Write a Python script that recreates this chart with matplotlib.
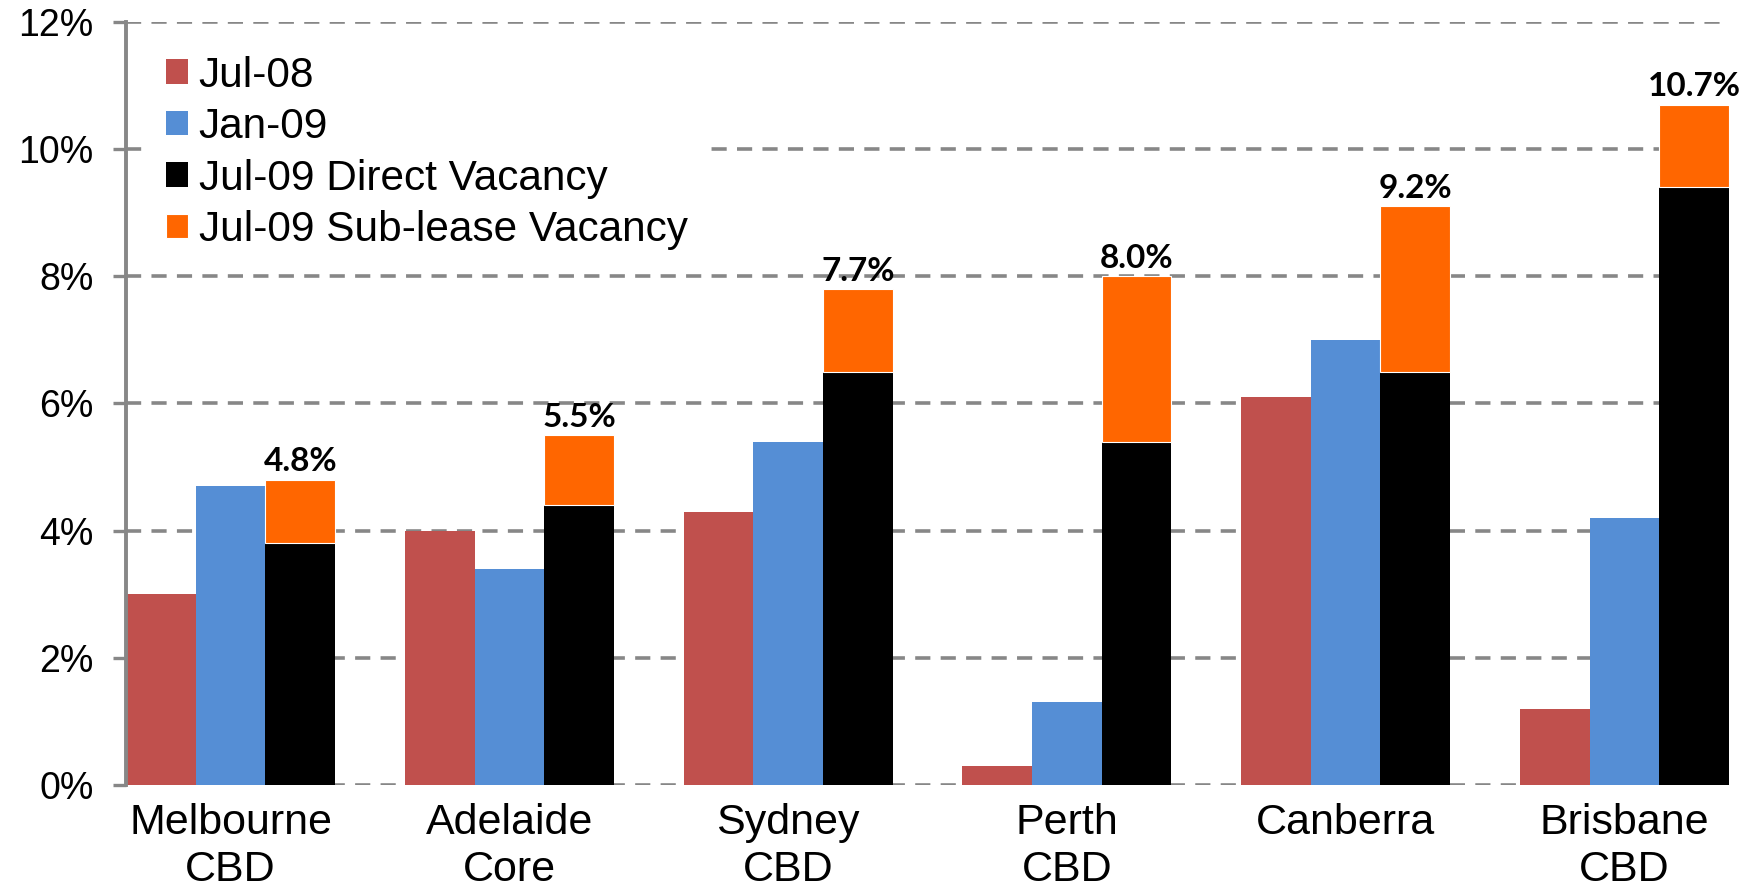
import matplotlib
matplotlib.use('Agg')
import matplotlib.pyplot as plt
import numpy as np

categories = ['Melbourne\nCBD', 'Adelaide\nCore', 'Sydney\nCBD', 'Perth\nCBD', 'Canberra', 'Brisbane\nCBD']
jul08 = [3.0, 4.0, 4.3, 0.3, 6.1, 1.2]
jan09 = [4.7, 3.4, 5.4, 1.3, 7.0, 4.2]
jul09_direct = [3.8, 4.4, 6.5, 5.4, 6.5, 9.4]
jul09_sublease = [1.0, 1.1, 1.3, 2.6, 2.6, 1.3]
total_labels = ['4.8%', '5.5%', '7.7%', '8.0%', '9.2%', '10.7%']
series_names = ['Jul-08', 'Jan-09', 'Jul-09 Direct Vacancy', 'Jul-09 Sub-lease Vacancy']
yticks = [0, 2, 4, 6, 8, 10, 12]
ytick_labels = ['0%', '2%', '4%', '6%', '8%', '10%', '12%']

RED = '#C0504D'
BLUE = '#558ED5'
BLACK = '#000000'
ORANGE = '#FF6600'
GRID = '#878787'

plt.rcParams['font.family'] = ['Liberation Sans', 'DejaVu Sans']

fig = plt.figure(figsize=(17.51, 8.93), dpi=100)
ax = fig.add_axes([0.072, 0.121, 0.9154, 0.8544])

x = np.arange(len(categories))
w = 0.25
ax.bar(x - w, jul08, w, color=RED, label=series_names[0], zorder=2)
ax.bar(x, jan09, w, color=BLUE, label=series_names[1], zorder=2)
ax.bar(x + w, jul09_direct, w, color=BLACK, label=series_names[2], zorder=2)
ax.bar(x + w, jul09_sublease, w, bottom=jul09_direct, color=ORANGE,
       edgecolor='white', linewidth=0.8, label=series_names[3], zorder=2)

totals = np.array(jul09_direct) + np.array(jul09_sublease)
for xi, t, lab in zip(x, totals, total_labels):
    ax.annotate(lab, (xi + w, t), xytext=(0, 2.5), textcoords='offset points',
                ha='center', va='bottom', fontsize=24, fontweight='bold',
                family=['Lato', 'DejaVu Sans'], zorder=5)

ax.set_xlim(-0.375, len(categories) - 1 + 0.375)
ax.set_ylim(0, 12)
ax.set_yticks(yticks)
ax.set_yticklabels(ytick_labels, fontsize=27)
ax.set_xticks(x)
ax.set_xticklabels(categories, fontsize=31, linespacing=1.22, va='top')

ax.grid(axis='y', color=GRID, linewidth=2.6, linestyle=(0, (4.2, 2.85)), zorder=0)
ax.set_axisbelow(True)

for s in ['top', 'right', 'bottom']:
    ax.spines[s].set_visible(False)
ax.spines['left'].set_color(GRID)
ax.spines['left'].set_linewidth(2.8)
ax.tick_params(axis='y', length=9.5, width=2.4, color=GRID, pad=14)
ax.tick_params(axis='x', length=0, pad=13)

leg = ax.legend(loc='upper left', bbox_to_anchor=(0.0143, 0.978), fontsize=30.5,
                frameon=True, facecolor='white', edgecolor='none', framealpha=1,
                fancybox=False, borderpad=0.4, borderaxespad=0,
                handlelength=0.52, handleheight=0.52, handletextpad=0.25,
                labelspacing=0.27)
leg.set_zorder(10)

fig.savefig('out.png', dpi=100)
